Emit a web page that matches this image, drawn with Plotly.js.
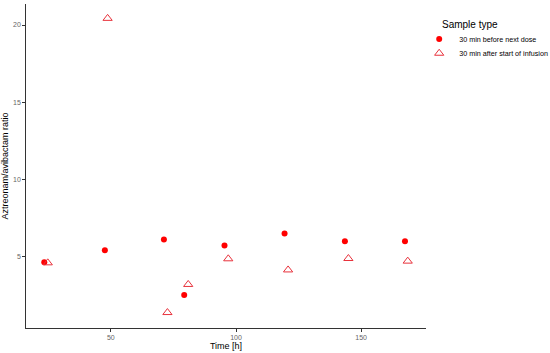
<!DOCTYPE html>
<html>
<head>
<meta charset="utf-8">
<script src="https://cdn.plot.ly/plotly-3.0.1.min.js"></script>
<style>
  html, body { margin: 0; padding: 0; background: #fff; }
  #plot { width: 550px; height: 353px; }
</style>
</head>
<body>
<div id="plot"></div>
<script>
// time after first dose, hours
const beforeTime = [23.4, 47.6, 71.2, 79.3, 95.4, 119.4, 143.5, 167.5];
const beforeRatio = [4.64, 5.42, 6.11, 2.52, 5.73, 6.50, 6.00, 5.99];

const afterTime = [24.8, 48.7, 72.6, 80.9, 96.9, 120.8, 144.9, 168.6];
const afterRatio = [4.60, 20.43, 1.38, 3.20, 4.86, 4.14, 4.88, 4.71];

const xTicks = [50, 100, 150];
const yTicks = [5, 10, 15, 20];

const seriesNames = ["30 min before next dose", "30 min after start of infusion"];

const font = "Liberation Sans, Arial, sans-serif";

const traces = [
    {
        x: beforeTime,
        y: beforeRatio,
        type: "scatter",
        mode: "markers",
        name: seriesNames[0],
        legend: "legend",
        marker: { symbol: "circle", size: 6, color: "#ff0000" }
    },
    {
        x: afterTime,
        y: afterRatio,
        type: "scatter",
        mode: "markers",
        name: seriesNames[1],
        legend: "legend2",
        marker: {
            symbol: "triangle-up-open",
            size: 8,
            color: "#e8323c",
            line: { width: 1, color: "#e8323c" }
        }
    }
];

const axisStyle = {
    showgrid: false,
    zeroline: false,
    showline: true,
    linecolor: "#333333",
    linewidth: 1.2,
    ticks: "outside",
    ticklen: 2.5,
    tickwidth: 1,
    tickcolor: "#333333",
    tickfont: { family: font, size: 7, color: "#666666" }
};

// one legend per series so the rows sit as close as in ggplot
const legendStyle = {
    xanchor: "left",
    yanchor: "middle",
    font: { family: font, size: 7.2, color: "#000" },
    itemwidth: 30,
    bgcolor: "rgba(0,0,0,0)"
};

const layout = {
    width: 550,
    height: 353,
    margin: { l: 26, r: 124, t: 4, b: 25, pad: 0, autoexpand: false },
    paper_bgcolor: "#ffffff",
    plot_bgcolor: "#ffffff",
    font: { family: font },
    xaxis: Object.assign({}, axisStyle, {
        range: [16.1, 175.9],
        tickvals: xTicks,
        title: { text: "Time [h]", font: { family: font, size: 9, color: "#000" }, standoff: 2 }
    }),
    yaxis: Object.assign({}, axisStyle, {
        range: [0.38, 21.36],
        tickvals: yTicks,
        title: { text: "Aztreonam/avibactam ratio", font: { family: font, size: 9, color: "#000" }, standoff: 4 }
    }),
    showlegend: true,
    legend: Object.assign({}, legendStyle, { x: 0.983, y: 0.892 }),
    legend2: Object.assign({}, legendStyle, { x: 0.983, y: 0.848 }),
    annotations: [
        {
            text: "Sample type",
            xref: "paper", yref: "paper",
            x: 1.035, y: 0.938,
            xanchor: "left", yanchor: "middle",
            showarrow: false,
            font: { family: font, size: 10, color: "#000" }
        }
    ]
};

Plotly.newPlot("plot", traces, layout, { displayModeBar: false, staticPlot: true });
</script>
</body>
</html>
